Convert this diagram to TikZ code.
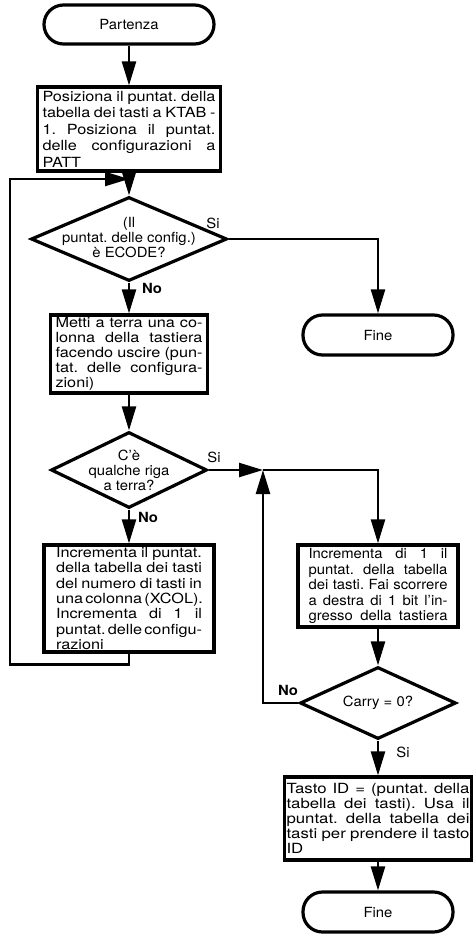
\documentclass[tikz,border=0pt]{standalone}
\usepackage{fontspec}
\setmainfont{TeX Gyre Heros}[FakeStretch=1.06]
\newfontfamily\wideA{TeX Gyre Heros}[FakeStretch=1.16]
\newfontfamily\wideB{TeX Gyre Heros}[FakeStretch=1.2]
\usetikzlibrary{arrows.meta,shapes.geometric}
\frenchspacing
\newdimen\tw
\newcommand{\jl}[1]{\hbox to\tw{\spaceskip=.278em plus 3em minus .12em\relax #1}}
\newcommand{\lastl}[1]{\hbox to\tw{#1\hfil}}
\begin{document}
\begin{tikzpicture}[x=1pt,y=-1pt,
  base/.style={font=\fontsize{14}{15.5}\selectfont},
  term/.style={draw,line width=3.2pt,rounded corners=19.5pt,minimum width=150pt,minimum height=40pt,inner sep=0pt,base},
  proc/.style={draw,line width=3.2pt,rectangle,inner ysep=2pt,align=left},
  pw/.style={text width=#1,execute at begin node={\tw=#1\relax}},
  dia/.style={draw,diamond,line width=3.2pt,inner sep=0pt},
  dtext/.style={align=center,font=\fontsize{14}{15}\selectfont,inner sep=0pt},
  conn/.style={line width=2.4pt},
  arr/.style={conn,-{Triangle[length=24pt,width=14pt]}},
  lab/.style={base,inner sep=0pt},
  blab/.style={font={\bfseries\fontsize{14}{15.5}\selectfont},inner sep=0pt}]
\useasboundingbox (0,0) rectangle (473,934);
\fill[white] (0,0) rectangle (473,934);

% nodes
\node[term,minimum width=170pt,minimum height=39pt] (start) at (129,24.5) {Partenza};
\node[proc,pw=173pt,inner xsep=5pt,minimum height=84pt,font={\wideA\fontsize{14}{16.5}\selectfont}] (b1) at (129,129) {%
\jl{Posiziona il puntat. della}
\jl{tabella dei tasti a KTAB -}
\jl{1. Posiziona il puntat.}
\jl{delle configurazioni a}
\lastl{PATT}};
\coordinate (m) at (129,179);
\coordinate (lx) at (10,179);
\node[dia,minimum width=196pt,minimum height=84pt] (d1) at (129,239) {};
\node[dtext] (d1t) at (129,238) {(Il\\puntat. delle config.)\\è ECODE?};
\node[term] (f1) at (378,335) {Fine};
\node[proc,pw=147pt,inner xsep=5pt,minimum height=78pt,font={\wideA\fontsize{14}{15}\selectfont}] (b2) at (129,354) {%
\jl{Metti a terra una co-}
\jl{lonna della tastiera}
\jl{facendo uscire (pun-}
\jl{tat. delle configura-}
\lastl{zioni)}};
\node[dia,minimum width=156pt,minimum height=76pt] (d2) at (129,470) {};
\node[dtext] (d2t) at (129,470) {C'è\\qualche riga\\a terra?};
\coordinate (j) at (263,470);
\node[proc,pw=146pt,inner xsep=12pt,minimum height=107pt,font={\wideA\fontsize{14}{15.3}\selectfont}] (b4) at (129,598.5) {%
\jl{Incrementa il puntat.}
\jl{della tabella dei tasti}
\jl{del numero di tasti in}
\jl{una colonna (XCOL).}
\jl{Incrementa di 1 il}
\jl{puntat. delle configu-}
\lastl{razioni}};
\node[proc,pw=139pt,inner xsep=10.5pt,minimum height=82pt,base] (b3) at (378,586) {%
\jl{Incrementa di 1 il}
\jl{puntat. della tabella}
\jl{dei tasti. Fai scorrere}
\jl{a destra di 1 bit l'in-}
\jl{gresso della tastiera}};
\node[dia,minimum width=156pt,minimum height=72pt] (d3) at (378,703) {};
\node[dtext] (d3t) at (378,703) {Carry = 0?};
\node[proc,pw=183pt,inner xsep=2pt,minimum height=83pt,font={\wideB\fontsize{14}{15}\selectfont}] (b5) at (378,818.5) {%
\jl{Tasto ID = (puntat. della}
\jl{tabella dei tasti). Usa il}
\jl{puntat. della tabella dei}
\jl{tasti per prendere il tasto}
\lastl{ID}};
\node[term] (f2) at (378,912) {Fine};

% connectors
\draw[arr] (start) -- (b1);
\draw[arr] (b1.south) -- (d1.north);
\draw[arr] (b4.south) -- ++(0,11) -| (lx) -- (m);
\draw[arr] (d1.east) -| (f1.north);
\draw[arr] (d1.south) -- (b2.north);
\draw[arr] (b2.south) -- (d2.north);
\draw[arr] (d2.east) -- (j);
\draw[arr] (j) -| (b3.north);
\draw[arr] (d2.south) -- (b4.north);
\draw[arr] (b3.south) -- (d3.north);
\draw[arr] (d3.west) -| (j);
\draw[arr] (d3.south) -- (b5.north);
\draw[arr] (b5.south) -- (f2.north);

% labels
\node[lab] (s1) at (213,223) {Si};
\node[blab] (n1) at (152,288) {No};
\node[lab] (s2) at (214,457) {Si};
\node[blab] (n2) at (148,517) {No};
\node[blab] (n3) at (288,690) {No};
\node[lab] (s3) at (403,752) {Si};
\end{tikzpicture}
\end{document}
